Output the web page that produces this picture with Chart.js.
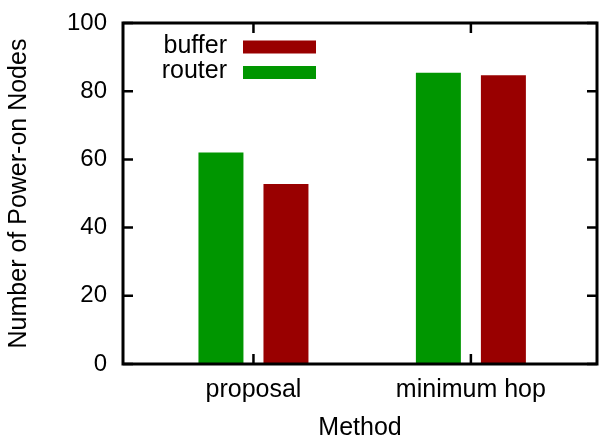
<!DOCTYPE html>
<html>
<head>
<meta charset="utf-8">
<script src="https://cdn.jsdelivr.net/npm/chart.js@4.4.0/dist/chart.umd.min.js"></script>
<style>
  html, body { margin: 0; padding: 0; background: #fff; }
</style>
</head>
<body>
<canvas id="chart" width="601" height="436"></canvas>
<script>
// Data
const categories = ['proposal', 'minimum hop'];
const routerValues = [62, 85.4];
const bufferValues = [52.8, 84.7];
const yTicks = [0, 20, 40, 60, 80, 100];

const GREEN = '#009600';
const RED = '#990000';
const FONT = 'Liberation Sans, Arial, sans-serif';

// Frame with inward ticks on all four sides (gnuplot look)
const framePlugin = {
  id: 'frame',
  afterDatasetsDraw(chart) {
    const { ctx, chartArea: a, scales: { x, y } } = chart;
    ctx.save();
    ctx.strokeStyle = '#000';
    ctx.lineWidth = 2.5;
    ctx.beginPath();
    y.ticks.forEach(t => {
      const py = y.getPixelForValue(t.value);
      ctx.moveTo(a.left, py); ctx.lineTo(a.left + 10, py);
      ctx.moveTo(a.right, py); ctx.lineTo(a.right - 10, py);
    });
    x.ticks.forEach(t => {
      const px = x.getPixelForValue(t.value);
      ctx.moveTo(px, a.bottom); ctx.lineTo(px, a.bottom - 10);
      ctx.moveTo(px, a.top); ctx.lineTo(px, a.top + 10);
    });
    ctx.stroke();
    ctx.lineWidth = 3;
    ctx.strokeRect(a.left, a.top, a.right - a.left, a.bottom - a.top);
    ctx.restore();
  }
};

// Legend inside the plot: text right-aligned, swatch after it, reversed order
const legendPlugin = {
  id: 'insideLegend',
  afterDraw(chart) {
    const { ctx, chartArea: a } = chart;
    const sets = chart.data.datasets.slice().reverse();
    ctx.save();
    ctx.font = '25px ' + FONT;
    ctx.textAlign = 'right';
    ctx.textBaseline = 'middle';
    sets.forEach((ds, i) => {
      const cy = a.top + 24 + i * 25.5;
      ctx.fillStyle = '#000';
      ctx.fillText(ds.label, a.left + 104, cy - 1);
      ctx.fillStyle = ds.backgroundColor;
      ctx.fillRect(a.left + 120, cy - 6.5, 73, 13);
    });
    ctx.restore();
  }
};

new Chart(document.getElementById('chart'), {
  type: 'bar',
  data: {
    datasets: [{
      label: 'router',
      backgroundColor: GREEN,
      data: routerValues.map((v, i) => ({ x: i, y: v }))
    }, {
      label: 'buffer',
      backgroundColor: RED,
      data: bufferValues.map((v, i) => ({ x: i, y: v }))
    }]
  },
  options: {
    responsive: false,
    animation: false,
    layout: { padding: { top: 23, right: 4, left: 0, bottom: 0 } },
    datasets: {
      bar: { categoryPercentage: 0.598, barPercentage: 0.692 }
    },
    plugins: {
      legend: { display: false },
      tooltip: { enabled: false }
    },
    scales: {
      x: {
        type: 'linear',
        offset: false,
        min: -0.6,
        max: 1.58,
        afterBuildTicks: s => { s.ticks = categories.map((c, i) => ({ value: i })); },
        afterFit: s => { s.height = 72; },
        grid: { display: false, drawTicks: false, offset: false },
        border: { display: false },
        ticks: {
          padding: 11,
          color: '#000',
          font: { family: FONT, size: 25 },
          callback: v => categories[v]
        },
        title: {
          display: true,
          text: 'Method',
          color: '#000',
          font: { family: FONT, size: 25, lineHeight: 1 },
          padding: { top: 0, bottom: -5 }
        }
      },
      y: {
        min: 0,
        max: 100,
        afterBuildTicks: s => { s.ticks = yTicks.map(v => ({ value: v })); },
        afterFit: s => { s.width = 123; s.paddingTop = 0; s.paddingBottom = 0; },
        grid: { display: false, drawTicks: false },
        border: { display: false },
        ticks: {
          padding: 16,
          color: '#000',
          font: { family: FONT, size: 24, lineHeight: 1 }
        },
        title: {
          display: true,
          text: 'Number of Power-on Nodes',
          color: '#000',
          font: { family: FONT, size: 25, lineHeight: 1 },
          padding: { top: 6.5, bottom: 0 }
        }
      }
    }
  },
  plugins: [framePlugin, legendPlugin]
});
</script>
</body>
</html>
